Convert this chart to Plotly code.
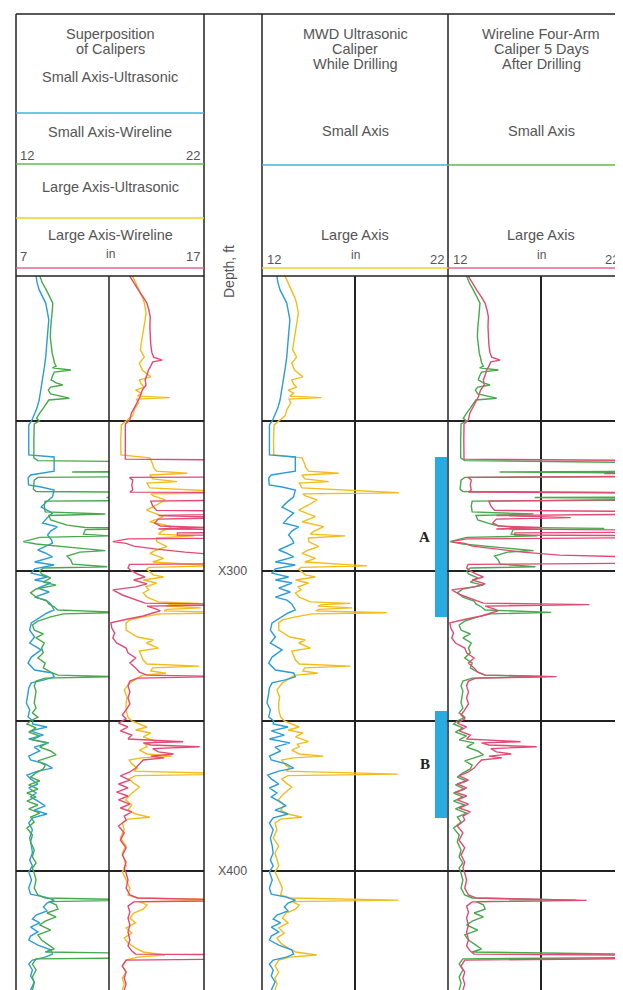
import plotly.graph_objects as go

# ---------------- data (depth in ft below X000, caliper in inches) ----------------
depth_ticks = [250, 300, 350, 400]
depth_tick_text = ["X300", "X400"]
depth_tick_vals = [300, 400]

small_us_depth = [201.7, 203.7, 206.3, 208.7, 210.7, 213.0, 216.3, 219.7, 224.0, 226.3, 228.7, 232.3, 236.3, 239.7, 243.0, 245.7, 247.3, 249.0, 250.0,
                  251.3, 256.3, 261.3, 262.0, 264.7, 266.7, 268.0, 269.0, 271.3, 272.0, 273.0, 275.3, 277.3, 278.7, 280.7, 282.3, 284.0, 285.3, 286.7, 288.0, 289.7, 290.7, 293.0, 294.0, 295.3, 297.0, 298.0, 299.3,
                  300.7, 302.0, 303.0, 304.0, 305.7, 307.0, 308.7, 309.7, 311.0, 312.0, 313.0, 314.0, 315.3, 317.3, 319.7, 322.0, 324.0, 326.3, 328.7, 330.7, 333.0, 334.0, 335.3, 336.3, 337.3, 339.0, 340.7, 344.0, 346.3, 348.7, 350.0,
                  351.0, 352.0, 353.3, 354.7, 356.0, 357.3, 358.7, 360.0, 361.7, 363.0, 364.3, 365.7, 366.7, 368.0, 369.3, 371.0, 372.3, 374.0, 375.3, 376.7, 378.3, 379.7, 381.0, 382.3, 384.0, 386.3, 389.0, 391.7, 394.0, 396.3, 398.3,
                  400.3, 403.0, 405.7, 407.7, 408.7, 409.7, 410.7, 412.0, 413.3, 414.7, 416.0, 417.3, 418.7, 420.3, 421.7, 423.0, 424.7, 426.3, 427.7, 428.7, 429.7, 431.0, 433.0, 435.0, 437.0, 439.7]
small_us_in = [12.80, 12.85, 12.97, 13.15, 13.33, 13.40, 13.50, 13.45, 13.41, 13.38, 13.33, 13.25, 13.15, 13.05, 12.97, 12.85, 12.74, 12.66, 12.55,
               12.40, 12.38, 12.40, 13.79, 13.80, 13.79, 12.50, 12.36, 12.39, 13.08, 13.79, 13.70, 13.30, 13.08, 13.70, 13.40, 13.16, 13.97, 13.60, 13.43, 13.65, 13.70, 12.90, 13.30, 13.70, 12.72, 13.79, 12.72,
               12.54, 13.43, 12.72, 13.61, 12.90, 13.52, 12.72, 13.34, 13.60, 13.70, 13.79, 13.40, 13.08, 12.54, 12.45, 12.72, 12.45, 13.08, 12.54, 12.36, 12.72, 13.70, 13.79, 13.25, 12.54, 12.40, 12.36, 12.27, 12.45, 12.36, 12.63,
               12.6, 13.4, 12.5, 13.2, 12.4, 13.5, 12.7, 13.0, 12.4, 12.5, 13.3, 13.7, 12.9, 12.3, 12.5, 12.9, 12.4, 12.8, 12.5, 12.9, 13.3, 12.7, 13.4, 12.6, 12.4, 12.6, 12.45, 12.55, 12.6, 12.45, 12.6,
               12.4, 12.55, 12.4, 12.5, 13.3, 13.8, 13.4, 13.2, 13.4, 12.8, 12.6, 13.0, 12.5, 12.9, 12.5, 12.4, 12.9, 13.6, 13.7, 13.3, 12.6, 12.4, 12.6, 12.5, 12.7, 12.5]

large_us_depth = [201.7, 204.0, 206.3, 208.7, 210.7, 214.0, 216.3, 218.7, 222.0, 224.0, 226.3, 228.7, 230.7, 233.0, 235.3, 236.3, 237.7, 238.7, 239.7, 240.7, 241.7, 242.2, 242.7, 244.0, 246.3, 248.3, 250.0,
                  251.3, 256.3, 261.3, 262.3, 264.3, 265.3, 266.7, 267.4, 268.0, 269.3, 270.2, 270.7, 272.3, 273.9, 274.3, 275.0, 276.3, 278.0, 279.7, 281.9, 283.6, 285.2, 286.7, 287.7, 288.3, 289.0, 290.2, 291.9, 293.0, 294.1, 295.8, 297.0, 298.3, 298.8, 299.4,
                  300.3, 301.3, 302.0, 303.0, 304.0, 305.3, 306.3, 307.3, 308.7, 309.7, 310.3, 310.8, 311.2, 311.7, 312.3, 312.8, 313.3, 313.9, 314.3, 315.3, 316.3, 317.3, 319.7, 322.0, 323.0, 324.0, 325.7, 326.7, 328.0, 329.7, 331.0, 331.7, 332.3, 333.3, 334.1, 334.7, 335.3, 337.3, 339.7, 342.0, 344.0, 346.3, 348.7, 350.0,
                  351.0, 352.0, 353.0, 354.0, 355.3, 356.9, 357.7, 358.6, 359.7, 361.0, 361.7, 362.3, 363.0, 364.3, 365.7, 366.7, 367.7, 368.2, 369.3, 370.7, 372.0, 373.0, 374.7, 376.3, 378.0, 379.7, 381.0, 382.1, 382.7, 384.0, 386.3, 389.0, 391.7, 394.0, 396.3, 398.3,
                  400.3, 403.0, 405.7, 408.0, 409.0, 409.7, 410.2, 411.3, 412.7, 414.0, 415.7, 417.3, 419.0, 420.7, 422.3, 424.0, 425.7, 427.0, 428.0, 428.7, 429.7, 431.7, 433.7, 435.7, 437.7, 439.7]
large_us_in = [13.24, 13.4, 13.6, 13.75, 13.86, 13.95, 13.9, 13.85, 13.77, 13.7, 13.65, 13.86, 13.6, 13.75, 14.2, 13.6, 13.7, 13.85, 13.4, 13.7, 13.5, 15.2, 13.45, 13.55, 13.33, 13.24, 12.9,
               12.65, 12.62, 12.63, 14.15, 14.3, 14.33, 14.5, 16.12, 14.15, 14.3, 15.58, 14.0, 14.15, 19.35, 14.2, 14.33, 14.96, 14.5, 13.97, 14.87, 14.15, 15.32, 14.8, 14.6, 16.48, 14.5, 14.51, 15.05, 14.5, 14.15, 14.87, 14.3, 17.65, 14.1, 13.97,
               14.15, 14.33, 14.87, 13.8, 14.5, 13.95, 14.1, 13.8, 14.0, 14.33, 14.6, 16.75, 15.2, 15.0, 16.84, 15.05, 14.9, 18.7, 14.69, 13.8, 13.1, 12.9, 12.9, 13.5, 14.33, 13.97, 14.6, 13.6, 13.7, 13.8, 14.0, 16.75, 14.3, 14.2, 15.0, 13.8, 13.6, 13.1, 12.8, 12.95, 12.9, 12.9, 13.0, 13.2,
               13.6, 14.0, 13.4, 14.2, 13.8, 14.5, 13.9, 14.0, 13.6, 14.0, 15.3, 13.7, 13.06, 13.2, 13.5, 13.3, 19.3, 13.4, 13.06, 13.3, 13.6, 13.4, 13.1, 12.88, 13.2, 13.0, 13.4, 14.15, 13.0, 12.7, 12.8, 12.6, 12.9, 12.7, 12.8, 12.9,
               12.7, 12.9, 13.1, 13.0, 13.5, 19.33, 13.6, 14.0, 13.8, 13.3, 13.1, 13.4, 12.9, 13.2, 12.8, 13.0, 13.4, 13.8, 14.94, 13.5, 12.9, 12.7, 12.9, 12.7, 12.8, 12.7]

small_wl_depth = [201.7, 204.0, 206.3, 208.7, 210.7, 213.7, 216.3, 219.0, 222.0, 224.7, 227.3, 229.0, 230.7, 231.7, 232.3, 233.0, 233.7, 235.0, 236.3, 237.3, 238.0, 238.7, 239.7, 241.0, 242.4, 243.0, 244.1, 245.7, 247.4, 249.1, 250.0,
                  251.0, 256.3, 262.3, 263.2, 264.0, 266.7, 267.0, 267.5, 268.3, 268.8, 269.7, 271.7, 272.7, 273.5, 274.0, 275.3, 275.5, 275.8, 276.3, 276.7, 278.3, 280.3, 281.0, 281.5, 283.0, 284.7, 285.5, 285.8, 286.2, 287.7, 288.3, 288.8, 290.2, 291.0, 292.3, 293.2, 293.7, 295.0, 296.3, 297.7, 298.6, 299.0, 300.0,
                  301.0, 302.3, 303.7, 304.7, 306.0, 307.3, 308.7, 310.0, 311.0, 312.0, 313.0, 313.8, 314.3, 315.3, 316.7, 318.0, 319.7, 321.0, 322.3, 324.0, 325.7, 327.3, 329.0, 330.7, 332.3, 333.7, 334.7, 335.2, 335.7, 336.7, 338.3, 340.0, 342.0, 344.0, 345.7, 347.3, 348.7, 350.0,
                  351.0, 352.3, 353.7, 355.0, 356.3, 357.3, 358.7, 360.0, 361.3, 362.3, 363.3, 364.7, 366.0, 367.3, 368.7, 370.0, 371.3, 372.7, 374.0, 375.3, 376.7, 378.0, 379.3, 380.7, 382.0, 383.7, 385.7, 388.0, 390.3, 393.0, 395.3, 397.3, 399.0,
                  400.7, 403.0, 405.7, 408.0, 409.0, 409.7, 410.2, 411.3, 412.7, 414.0, 415.3, 416.7, 418.0, 419.7, 421.3, 423.0, 424.7, 426.0, 427.0, 428.0, 428.7, 429.3, 431.0, 433.0, 435.3, 437.3, 439.7]
small_wl_in = [13.0, 13.15, 13.36, 13.55, 13.72, 13.68, 13.63, 13.6, 13.58, 13.62, 13.68, 13.75, 13.81, 13.9, 13.7, 14.71, 13.8, 13.7, 13.63, 13.9, 14.26, 13.6, 13.47, 13.6, 14.62, 13.5, 13.36, 13.2, 13.0, 12.82, 12.99,
               12.7, 12.68, 12.68, 12.9, 25, 25, 14.78, 25, 25, 12.9, 12.7, 12.65, 12.65, 12.8, 25, 25, 16.66, 25, 25, 13.3, 13.25, 13.3, 16.6, 13.5, 13.6, 14.5, 15.5, 20.4, 15.5, 15.4, 16.8, 13.0, 12.1, 12.8, 15.0, 16.6, 15.2, 14.5, 14.7, 14.8, 16.7, 13.2, 13.0,
               13.1, 13.6, 13.2, 13.9, 12.8, 12.5, 12.8, 13.4, 13.5, 13.8, 14.0, 17.55, 14.3, 13.6, 12.9, 12.6, 12.7, 13.2, 12.8, 13.25, 13.1, 13.2, 12.9, 13.3, 13.2, 13.6, 14.0, 17.3, 13.3, 12.8, 12.7, 12.8, 12.75, 12.7, 12.8, 12.6, 12.9, 12.5,
               12.3, 12.8, 12.4, 13.0, 12.6, 13.4, 13.0, 13.6, 13.9, 13.4, 12.9, 13.3, 13.2, 12.8, 12.5, 13.0, 12.4, 12.9, 12.3, 12.8, 12.3, 12.9, 12.4, 13.0, 12.5, 12.7, 12.3, 12.6, 12.5, 12.7, 12.6, 12.8, 12.6,
               12.7, 12.8, 12.7, 12.9, 13.3, 18.9, 13.5, 13.9, 14.0, 13.4, 13.9, 13.3, 13.0, 13.6, 12.9, 13.1, 13.5, 13.8, 13.3, 25, 25, 12.8, 12.6, 12.8, 12.6, 12.7, 12.6]

large_wl_depth = [201.7, 204.0, 206.3, 208.7, 210.7, 213.0, 215.3, 218.7, 222.0, 224.7, 227.3, 228.7, 229.7, 230.3, 231.7, 233.0, 234.7, 236.3, 238.0, 239.7, 242.0, 243.7, 245.3, 247.3, 249.7,
                  251.0, 256.3, 262.7, 263.3, 267.2, 267.5, 267.8, 268.5, 268.8, 269.7, 271.3, 273.0, 273.7, 274.0, 276.0, 276.3, 276.7, 278.3, 279.8, 280.3, 281.0, 281.5, 282.2, 282.7, 284.0, 285.0, 285.5, 286.0, 286.5, 287.0, 287.3, 288.0, 288.3, 288.8, 289.3, 290.2, 290.8, 291.7, 292.7, 293.7, 294.7, 295.3, 295.8, 297.3, 297.8, 299.0, 300.0,
                  301.0, 302.0, 303.0, 304.3, 305.3, 306.3, 308.0, 309.3, 310.7, 311.2, 311.7, 312.7, 313.3, 314.0, 315.0, 316.0, 317.3, 319.0, 320.7, 322.3, 324.0, 325.7, 327.3, 329.0, 330.7, 332.3, 333.7, 334.7, 335.2, 335.7, 336.7, 338.3, 340.3, 342.3, 344.3, 346.3, 348.0, 349.3,
                  350.7, 352.0, 353.3, 354.7, 356.0, 356.9, 357.3, 358.0, 358.6, 359.2, 360.3, 361.0, 361.7, 362.3, 363.0, 364.3, 365.7, 367.0, 368.3, 369.7, 371.0, 372.3, 373.7, 375.0, 376.3, 377.7, 379.0, 380.3, 381.7, 383.0, 385.0, 387.3, 389.7, 392.3, 394.7, 397.0, 399.0,
                  400.7, 403.0, 405.7, 408.0, 409.0, 409.8, 410.3, 411.7, 413.7, 415.7, 418.0, 420.3, 423.0, 425.0, 426.7, 427.7, 428.2, 429.0, 429.7, 431.7, 433.7, 435.7, 437.7, 439.7]
large_wl_in = [13.09, 13.3, 13.54, 13.8, 13.99, 14.1, 14.17, 14.15, 14.17, 14.2, 14.26, 14.35, 14.8, 14.3, 14.2, 14.08, 14.0, 13.9, 13.95, 13.75, 13.63, 13.5, 13.36, 13.18, 13.09,
               12.86, 12.85, 12.86, 25, 25, 20.4, 25, 25, 13.08, 13.25, 13.2, 13.25, 13.1, 25, 25, 20.5, 14.2, 14.3, 14.5, 25, 25, 14.6, 18.6, 14.6, 14.4, 14.7, 17.0, 14.6, 25, 25, 15.6, 15.6, 25, 25, 13.0, 12.2, 12.9, 13.3, 14.5, 16.0, 18.0, 20.0, 25, 25, 13.08, 13.0, 13.2,
               13.5, 13.9, 13.3, 14.0, 13.4, 12.2, 12.7, 13.3, 13.9, 19.6, 14.0, 14.5, 14.7, 14.3, 13.8, 13.0, 12.1, 12.15, 12.3, 12.2, 12.4, 12.9, 13.0, 13.4, 13.1, 13.4, 13.6, 14.0, 17.84, 13.5, 13.1, 13.0, 13.1, 13.0, 13.1, 12.9, 12.7, 12.9,
               12.5, 13.0, 12.6, 13.2, 13.0, 15.9, 13.8, 14.2, 16.77, 14.3, 14.6, 15.4, 14.2, 14.9, 13.8, 13.6, 13.4, 13.1, 12.6, 13.1, 12.5, 13.0, 12.4, 13.0, 12.5, 13.1, 12.6, 13.2, 12.8, 12.9, 12.5, 12.8, 12.6, 12.9, 12.7, 12.9, 12.8,
               12.9, 13.0, 12.9, 13.1, 13.5, 19.45, 13.3, 13.0, 13.1, 13.0, 13.1, 13.0, 13.1, 13.0, 13.2, 13.4, 25, 25, 12.9, 12.7, 12.9, 12.8, 12.9, 12.8]

zone_names = ["A", "B"]
zone_top = [262.0, 346.7]
zone_bottom = [315.3, 382.3]

for a, b in [(small_us_depth, small_us_in), (large_us_depth, large_us_in),
             (small_wl_depth, small_wl_in), (large_wl_depth, large_wl_in)]:
    assert len(a) == len(b), (len(a), len(b))

# ---------------- layout helpers ----------------
# the page body has an 8 px margin, so the figure is placed 8 px in from the
# top-left corner of the window; positions below are given in window pixels.
OFF = 8
W, H = 623 - OFF, 990 - OFF
def fx(p):
    return (p - OFF) / W
def fy(p):
    return 1 - (p - OFF) / H

LOG_TOP = 276
DEPTH_RANGE = [439.67, 201.67]
BLUE = "#2A9DD6"
GREEN = "#47A94C"
YEL = "#F2BC1B"
PINK = "#E24A73"
INK = "#222222"
TXT = "#555555"
FONT = "Liberation Sans"

fig = go.Figure()

def add(x, y, color, xa, ya):
    fig.add_trace(go.Scatter(x=x, y=y, mode="lines", line=dict(color=color, width=1.4),
                             xaxis=xa, yaxis=ya, showlegend=False, hoverinfo="skip"))

# track 1 (superposition)
add(small_us_in, small_us_depth, BLUE, "x", "y")
add(small_wl_in, small_wl_depth, GREEN, "x", "y")
add(large_us_in, large_us_depth, YEL, "x2", "y2")
add(large_wl_in, large_wl_depth, PINK, "x2", "y2")
# track 2 (MWD ultrasonic)
add(large_us_in, large_us_depth, YEL, "x3", "y3")
add(small_us_in, small_us_depth, BLUE, "x3", "y3")
# track 3 (wireline)
add(small_wl_in, small_wl_depth, GREEN, "x4", "y4")
add(large_wl_in, large_wl_depth, PINK, "x4", "y4")

xcommon = dict(showticklabels=False, zeroline=False, ticks="", showline=False, fixedrange=True)
ycommon = dict(domain=[0, fy(LOG_TOP)], range=DEPTH_RANGE, tickvals=depth_ticks, showgrid=True,
               gridcolor=INK, gridwidth=1.5, showticklabels=False, zeroline=False, ticks="",
               showline=False, fixedrange=True)

fig.update_layout(
    width=W, height=H, margin=dict(l=0, r=0, t=0, b=0),
    paper_bgcolor="white", plot_bgcolor="white",
    font=dict(family=FONT, color=TXT),
    xaxis=dict(domain=[fx(16), fx(109)], range=[11.7, 16.8], anchor="y", showgrid=False, **xcommon),
    xaxis2=dict(domain=[fx(109), fx(204)], range=[12, 17], anchor="y2", showgrid=False, **xcommon),
    xaxis3=dict(domain=[fx(262), fx(448)], range=[12, 22], anchor="y3", showgrid=True,
                tickvals=[17], gridcolor=INK, gridwidth=1.5, **xcommon),
    xaxis4=dict(domain=[fx(448), 1.0], range=[12, 12 + 175 / 18.6], anchor="y4", showgrid=True,
                tickvals=[17], gridcolor=INK, gridwidth=1.5, **xcommon),
    yaxis=dict(anchor="x", **ycommon),
    yaxis2=dict(anchor="x2", matches="y", **ycommon),
    yaxis3=dict(anchor="x3", matches="y", **ycommon),
    yaxis4=dict(anchor="x4", matches="y", **ycommon),
)

shapes = []
def pline(x0, y0, x1, y1, color=INK, width=1.5):
    shapes.append(dict(type="line", xref="paper", yref="paper", x0=fx(x0), y0=fy(y0),
                       x1=fx(x1), y1=fy(y1), line=dict(color=color, width=width)))

# frame
pline(16, 14, 623, 14)
for xv in [16, 204, 262, 448]:
    pline(xv, 14, xv, 990)
pline(109, LOG_TOP, 109, 990)
pline(16, LOG_TOP, 204, LOG_TOP)
pline(262, LOG_TOP, 623, LOG_TOP)
# header colour keys
HC_BLUE, HC_GREEN, HC_YEL, HC_PINK = "#3DB5DC", "#62B94F", "#F2CC2C", "#E6638E"
pline(16, 113, 204, 113, HC_BLUE, 1.4)
pline(16, 164, 204, 164, HC_GREEN, 1.4)
pline(16, 218, 204, 218, HC_YEL, 1.4)
pline(16, 268, 204, 268, HC_PINK, 1.4)
pline(262, 165, 448, 165, HC_BLUE, 1.4)
pline(262, 268, 448, 268, HC_YEL, 1.4)
pline(448, 165, 623, 165, HC_GREEN, 1.4)
pline(448, 268, 623, 268, HC_PINK, 1.4)

# zone bars
for t, b in zip(zone_top, zone_bottom):
    shapes.append(dict(type="rect", xref="x3", yref="y3", x0=21.3, x1=21.95, y0=t, y1=b,
                       fillcolor="#29ABE2", line=dict(width=0), layer="above"))

fig.update_layout(shapes=shapes)

ann = []
def ptext(text, x, y, size=14.5, xanchor="center", angle=0):
    ann.append(dict(text=text, x=fx(x), y=fy(y), xref="paper", yref="paper", showarrow=False,
                    xanchor=xanchor, yanchor="middle", textangle=angle,
                    font=dict(size=size, family=FONT, color=TXT)))

# track 1 header
ptext("Superposition", 110, 34)
ptext("of Calipers", 110, 49)
ptext("Small Axis-Ultrasonic", 110, 77)
ptext("Small Axis-Wireline", 110, 132)
ptext("12", 18, 155, 13, "left")
ptext("22", 202, 155, 13, "right")
ptext("Large Axis-Ultrasonic", 110, 187)
ptext("Large Axis-Wireline", 110, 235)
ptext("7", 18, 257, 13, "left")
ptext("in", 110, 254, 12)
ptext("17", 202, 257, 13, "right")
# track 2 header
ptext("MWD Ultrasonic", 355, 34)
ptext("Caliper", 355, 49)
ptext("While Drilling", 355, 64)
ptext("Small Axis", 355, 131)
ptext("Large Axis", 355, 235)
ptext("12", 265, 259, 13, "left")
ptext("in", 355, 255, 12)
ptext("22", 446, 259, 13, "right")
# track 3 header
ptext("Wireline Four-Arm", 541, 34)
ptext("Caliper 5 Days", 541, 49)
ptext("After Drilling", 541, 64)
ptext("Small Axis", 541, 131)
ptext("Large Axis", 541, 235)
ptext("12", 451, 259, 13, "left")
ptext("in", 541, 255, 12)
ptext("22", 621, 259, 13, "right")
# depth track
ptext("Depth, ft", 229, 272, 14, "center", -90)
for v, t in zip(depth_tick_vals, depth_tick_text):
    ann.append(dict(text=t, x=fx(232), y=v, xref="paper", yref="y", showarrow=False,
                    xanchor="center", yanchor="middle", font=dict(size=12.5, family=FONT, color=TXT)))
# zone labels
for name, t, b in zip(zone_names, zone_top, zone_bottom):
    ann.append(dict(text="<b>%s</b>" % name, x=20.75, y=(t + b) / 2, xref="x3", yref="y3",
                    showarrow=False, xanchor="center", yanchor="middle",
                    font=dict(size=15, family="Liberation Serif", color="#222")))

fig.update_layout(annotations=ann)

fig.write_html("out.html", config={"displayModeBar": False})
